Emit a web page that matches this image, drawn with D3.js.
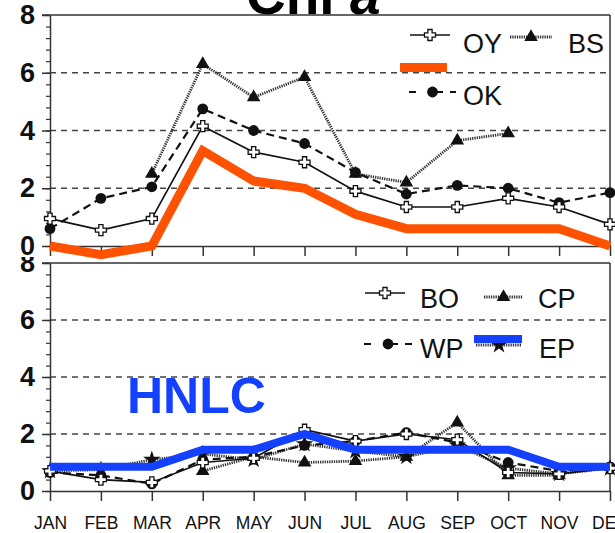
<!DOCTYPE html>
<html><head><meta charset="utf-8">
<script src="https://cdn.jsdelivr.net/npm/d3@7/dist/d3.min.js"></script>
<style>html,body{margin:0;padding:0;background:#fff;}svg{display:block;}</style>
</head><body>
<svg id="chart" width="615" height="533"></svg>
<script>
// ---------- data ----------
const months = ["JAN","FEB","MAR","APR","MAY","JUN","JUL","AUG","SEP","OCT","NOV","DEC"];
const yTicks = [0, 2, 4, 6, 8];
const gridTicks = [2, 4, 6];
// top panel (coastal)
const oyValues = [0.95, 0.55, 0.95, 4.15, 3.25, 2.9, 1.9, 1.35, 1.35, 1.65, 1.35, 0.75];
const okValues = [0.6, 1.65, 2.05, 4.75, 4.0, 3.55, 2.55, 1.8, 2.1, 2.0, 1.5, 1.85];
const bsValues = [null, null, 2.5, 6.3, 5.15, 5.85, 2.5, 2.2, 3.65, 3.9, null, null];
const coastalMean = [0.0, -0.3, 0.0, 3.3, 2.25, 2.0, 1.1, 0.6, 0.6, 0.6, 0.6, 0.0];
// bottom panel (HNLC)
const boValues = [0.7, 0.4, 0.3, 1.0, 1.15, 2.15, 1.75, 2.0, 1.8, 0.65, 0.6, 0.8];
const cpValues = [null, null, null, 0.7, 1.2, 1.0, 1.05, 1.2, 2.4, 0.55, 0.55, null];
const wpValues = [0.65, 0.55, 0.25, 1.1, 1.2, 1.6, 1.75, 2.05, 1.7, 1.0, 0.7, 0.85];
const epValues = [0.7, 0.75, 1.1, 1.3, 1.1, 1.65, 1.4, 1.2, 1.6, 0.8, 0.6, 0.8];
const hnlcMean = [0.85, 0.85, 0.85, 1.45, 1.45, 2.0, 1.45, 1.45, 1.45, 1.45, 0.85, 0.85];

// ---------- setup ----------
const svg = d3.select("#chart");
const FONT = "'Liberation Sans', Arial, Helvetica, sans-serif";
const ORANGE = "#ff5200";
const BLUE = "#1441ff";
const X0 = 50, X1 = 610;
const x = d3.scalePoint().domain(months).range([X0, X1]);

const styles = {
  solid:  {dash: null, width: 1.7, color: "#111"},
  dashed: {dash: "8,5", width: 2.2, color: "#111"},
  dotted: {dash: "1.3,1", width: 2.8, color: "#333"}
};

const crossPath = (s) => {
  const a = s * 0.38, b = s;
  return `M${-a},${-b}H${a}V${-a}H${b}V${a}H${a}V${b}H${-a}V${a}H${-b}V${-a}H${-a}Z`;
};
function marker(g, type, cx, cy) {
  if (type === "cross") {
    g.append("path").attr("d", crossPath(5.5)).attr("transform", `translate(${cx},${cy})`)
      .attr("fill", "#fff").attr("stroke", "#111").attr("stroke-width", 1.3);
  } else if (type === "circle") {
    g.append("circle").attr("cx", cx).attr("cy", cy).attr("r", 5.4).attr("fill", "#111");
  } else if (type === "triangle") {
    g.append("path").attr("d", d3.symbol(d3.symbolTriangle, 80)()).attr("transform", `translate(${cx},${cy})`).attr("fill", "#111");
  } else if (type === "star") {
    g.append("path").attr("d", d3.symbol(d3.symbolStar, 95)()).attr("transform", `translate(${cx},${cy})`).attr("fill", "#111");
  }
}

function drawPanel(cfg) {
  const y = d3.scaleLinear().domain([0, 8]).range([cfg.y0, cfg.y8]);
  const g = svg.append("g");
  // grid
  g.selectAll(".grid").data(gridTicks).join("line")
    .attr("x1", X0).attr("x2", X1).attr("y1", d => y(d)).attr("y2", d => y(d))
    .attr("stroke", "#444").attr("stroke-width", 1.4).attr("stroke-dasharray", "6,5");
  // frame top / right
  g.append("line").attr("x1", X0 - 8).attr("x2", X1).attr("y1", y(8)).attr("y2", y(8)).attr("stroke", "#333").attr("stroke-width", 1.5);
  g.append("line").attr("x1", X1).attr("x2", X1).attr("y1", y(8)).attr("y2", y(0)).attr("stroke", "#333").attr("stroke-width", 1.5);
  // minor y ticks
  const minor = g.append("g").attr("transform", `translate(${X0},0)`)
    .call(d3.axisLeft(y).tickValues(d3.range(0, 8.01, 0.4)).tickSize(4).tickFormat(""));
  minor.select(".domain").remove();
  minor.selectAll("line").attr("stroke", "#333").attr("stroke-width", 1.2);
  // major y axis
  const ya = g.append("g").attr("transform", `translate(${X0},0)`)
    .call(d3.axisLeft(y).tickValues(yTicks).tickSize(8).tickPadding(7).tickSizeOuter(0).tickFormat(d3.format("d")));
  ya.select(".domain").attr("stroke", "#333").attr("stroke-width", 1.5);
  ya.selectAll("line").attr("stroke", "#333").attr("stroke-width", 1.5);
  ya.selectAll("text").attr("font-family", FONT).attr("font-size", 27).attr("font-weight", "bold").attr("fill", "#111");
  if (cfg.clipLabels) ya.attr("clip-path", "url(#clipB)");
  // x axis
  const xa = g.append("g").attr("transform", `translate(0,${y(0)})`)
    .call(d3.axisBottom(x).tickSize(10).tickPadding(16).tickSizeOuter(0).tickFormat(cfg.xLabels ? (d => d) : ""));
  xa.select(".domain").attr("stroke", "#333").attr("stroke-width", 1.5);
  xa.selectAll("line").attr("stroke", "#333").attr("stroke-width", 1.5);
  xa.selectAll("text").attr("font-family", FONT).attr("font-size", 17.5).attr("fill", "#111");

  // series
  cfg.series.forEach(s => {
    const st = styles[s.style];
    const line = d3.line().defined(d => d != null).x((d, i) => x(months[i])).y(d => y(d));
    g.append("path").datum(s.values).attr("d", line).attr("fill", "none")
      .attr("stroke", st.color).attr("stroke-width", st.width).attr("stroke-dasharray", st.dash);
    const mg = g.append("g");
    s.values.forEach((v, i) => { if (v != null) marker(mg, s.marker, x(months[i]), y(v)); });
  });
  // mean overlay
  const ml = d3.line().x((d, i) => x(months[i])).y(d => y(d));
  g.append("path").datum(cfg.mean.values).attr("d", ml).attr("fill", "none")
    .attr("stroke", cfg.mean.color).attr("stroke-width", cfg.mean.width).attr("stroke-linejoin", "miter");
  return g;
}

svg.append("defs").append("clipPath").attr("id", "clipB").append("rect")
  .attr("x", -60).attr("y", 257).attr("width", 200).attr("height", 300);

// bottom panel
drawPanel({
  y0: 491, y8: 263, xLabels: true, clipLabels: true,
  series: [
    {values: epValues, style: "dotted", marker: "star"},
    {values: cpValues, style: "dotted", marker: "triangle"},
    {values: wpValues, style: "dashed", marker: "circle"},
    {values: boValues, style: "solid", marker: "cross"}
  ],
  mean: {values: hnlcMean, color: BLUE, width: 8}
});
// top panel
drawPanel({
  y0: 246, y8: 15, xLabels: false, clipLabels: false,
  series: [
    {values: bsValues, style: "dotted", marker: "triangle"},
    {values: okValues, style: "dashed", marker: "circle"},
    {values: oyValues, style: "solid", marker: "cross"}
  ],
  mean: {values: coastalMean, color: ORANGE, width: 9}
});

// ---------- legends ----------
function legendLine(x1, x2, yy, style, mk) {
  const st = styles[style];
  svg.append("line").attr("x1", x1).attr("x2", x2).attr("y1", yy).attr("y2", yy)
    .attr("stroke", st.color).attr("stroke-width", st.width).attr("stroke-dasharray", style === "dashed" ? "7,20,7" : st.dash);
  marker(svg, mk, (x1 + x2) / 2, yy);
}
function legendText(tx, ty, t) {
  svg.append("text").attr("x", tx).attr("y", ty).text(t)
    .attr("font-family", FONT).attr("font-size", 27).attr("fill", "#111");
}
// top legend
legendLine(410, 450, 35, "solid", "cross"); legendText(463, 53, "OY");
legendLine(510, 552, 37, "dotted", "triangle"); legendText(568, 53, "BS");
svg.append("line").attr("x1", 400).attr("x2", 447).attr("y1", 67.5).attr("y2", 67.5).attr("stroke", ORANGE).attr("stroke-width", 9);
legendLine(409, 456, 92, "dashed", "circle"); legendText(463, 105, "OK");
// bottom legend
legendLine(365, 405, 293, "solid", "cross"); legendText(420, 308, "BO");
legendLine(484, 523, 297, "dotted", "triangle"); legendText(538, 308, "CP");
legendLine(364, 412, 344, "dashed", "circle"); legendText(420, 358, "WP");
legendLine(476, 522, 345, "dotted", "star");
svg.append("line").attr("x1", 474).attr("x2", 522).attr("y1", 339).attr("y2", 339).attr("stroke", BLUE).attr("stroke-width", 8);
legendText(539, 358, "EP");

// HNLC label
svg.append("text").attr("x", 127).attr("y", 413).text("HNLC")
  .attr("font-family", FONT).attr("font-size", 50).attr("font-weight", "bold").attr("fill", BLUE);

// title (clipped at the top of the page)
const title = svg.append("text").attr("x", 246).attr("y", 14)
  .attr("font-family", FONT).attr("font-size", 55).attr("font-weight", "bold").attr("fill", "#000");
title.append("tspan").text("Chl ");
title.append("tspan").attr("font-style", "italic").text("a");
</script>
</body></html>
